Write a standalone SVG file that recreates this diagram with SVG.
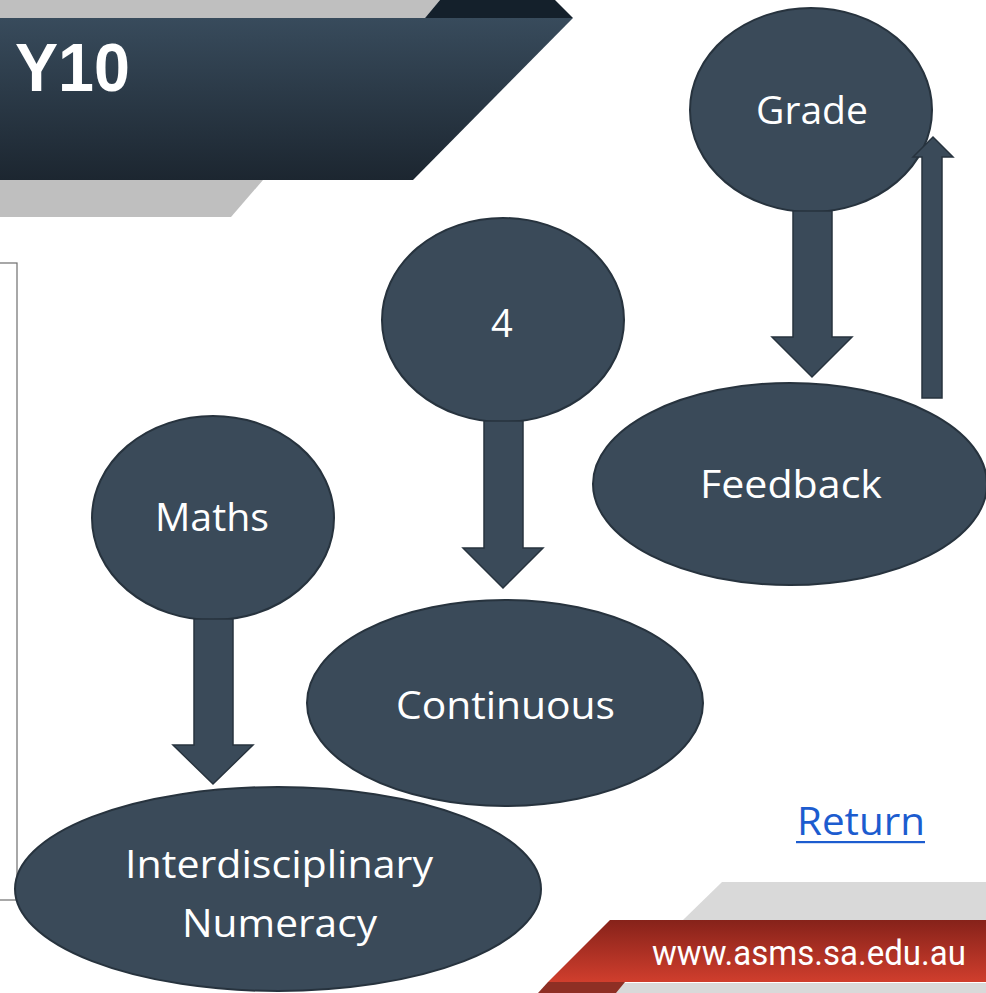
<svg xmlns="http://www.w3.org/2000/svg" width="986" height="993" viewBox="0 0 986 993">
  <defs>
    <linearGradient id="bannerGrad" x1="0" y1="0" x2="0" y2="1">
      <stop offset="0" stop-color="#384b5c"/>
      <stop offset="1" stop-color="#1c2630"/>
    </linearGradient>
    <linearGradient id="redGrad" x1="0" y1="0" x2="0" y2="1">
      <stop offset="0" stop-color="#86221a"/>
      <stop offset="1" stop-color="#d03e2d"/>
    </linearGradient>
  </defs>
  <style>
    .node { fill: #3a4a59; stroke: #27333e; stroke-width: 2; }
    .arrow { fill: #3a4a59; stroke: #27333e; stroke-width: 1.5; stroke-linejoin: miter; }
    .label { font-family: "Open Sans", "Noto Sans", "DejaVu Sans", sans-serif; font-size: 38px; fill: #ffffff; text-anchor: start; }
    .title { font-family: "Liberation Sans", Arial, sans-serif; font-weight: bold; font-size: 68px; fill: #ffffff; }
    .link { font-family: "Open Sans", "Noto Sans", sans-serif; font-size: 38px; fill: #1c5ccf; }
    .url { font-family: Roboto, "Liberation Sans", sans-serif; font-size: 35px; fill: #ffffff; }
  </style>

  <rect x="0" y="0" width="986" height="993" fill="#ffffff"/>

  <!-- Header banner -->
  <g id="header">
    <path d="M0,0 H440 L425,18 H0 Z" fill="#bfbfbf"/>
    <path d="M440,0 H555 L573,18 H425 Z" fill="#14202b"/>
    <path d="M0,180 H263 L231,217 H0 Z" fill="#bfbfbf"/>
    <path d="M0,18 H573 L413,180 H0 Z" fill="url(#bannerGrad)"/>
    <text class="title" x="15" y="91" textLength="115" lengthAdjust="spacingAndGlyphs">Y10</text>
  </g>

  <!-- Left panel outline -->
  <rect x="-1" y="263" width="18" height="637" fill="#ffffff" stroke="#6e6e6e" stroke-width="1.2"/>

  <!-- Footer -->
  <g id="footer">
    <path d="M722,882 H986 V920 H683 Z" fill="#d9d9d9"/>
    <path d="M622,983 H986 V993 H614 Z" fill="#d9d9d9"/>
    <path d="M548,982 H625 L616,993 H538 Z" fill="#8e2f24"/>
    <path d="M610,920 H986 V982 H548 Z" fill="url(#redGrad)"/>
    <text class="url" x="652" y="965" textLength="314" lengthAdjust="spacingAndGlyphs">www.asms.sa.edu.au</text>
  </g>

  <!-- Nodes -->
  <g id="node-grade">
    <ellipse class="node" cx="811" cy="110" rx="121" ry="102"/>
    <text class="label" x="756" y="124" textLength="112" lengthAdjust="spacingAndGlyphs">Grade</text>
  </g>
  <g id="node-4">
    <ellipse class="node" cx="503" cy="320" rx="121" ry="102"/>
    <text class="label" x="491" y="337">4</text>
  </g>
  <g id="node-maths">
    <ellipse class="node" cx="213" cy="518" rx="121" ry="102"/>
    <text class="label" x="155" y="531" textLength="114" lengthAdjust="spacingAndGlyphs">Maths</text>
  </g>
  <g id="node-feedback">
    <ellipse class="node" cx="790" cy="484" rx="197" ry="101"/>
    <text class="label" x="700" y="498" textLength="182" lengthAdjust="spacingAndGlyphs">Feedback</text>
  </g>
  <g id="node-continuous">
    <ellipse class="node" cx="505" cy="703" rx="198" ry="103"/>
    <text class="label" x="396" y="719" textLength="219" lengthAdjust="spacingAndGlyphs">Continuous</text>
  </g>
  <g id="node-interdisciplinary">
    <ellipse class="node" cx="278" cy="889" rx="263" ry="102"/>
    <text class="label" x="125" y="878" textLength="308" lengthAdjust="spacingAndGlyphs">Interdisciplinary</text>
    <text class="label" x="182" y="937" textLength="195" lengthAdjust="spacingAndGlyphs">Numeracy</text>
  </g>

  <!-- Connectors -->
  <g id="connectors">
    <path class="arrow" d="M793,211 H832 V337 H852 L812,377 L772,337 H793 Z"/>
    <path class="arrow" d="M922,398 V157 H913 L933,137 L953,157 H942 V398 Z"/>
    <path class="arrow" d="M484,421 H523 V548 H543 L503,588 L463,548 H484 Z"/>
    <path class="arrow" d="M194,619 H233 V745 H253 L213,784 L173,745 H194 Z"/>
  </g>

  <!-- Return link -->
  <g id="return-link">
    <text class="link" x="797" y="835" textLength="128" lengthAdjust="spacingAndGlyphs">Return</text>
    <rect x="796" y="841" width="129" height="2.2" fill="#1c5ccf"/>
  </g>
</svg>
